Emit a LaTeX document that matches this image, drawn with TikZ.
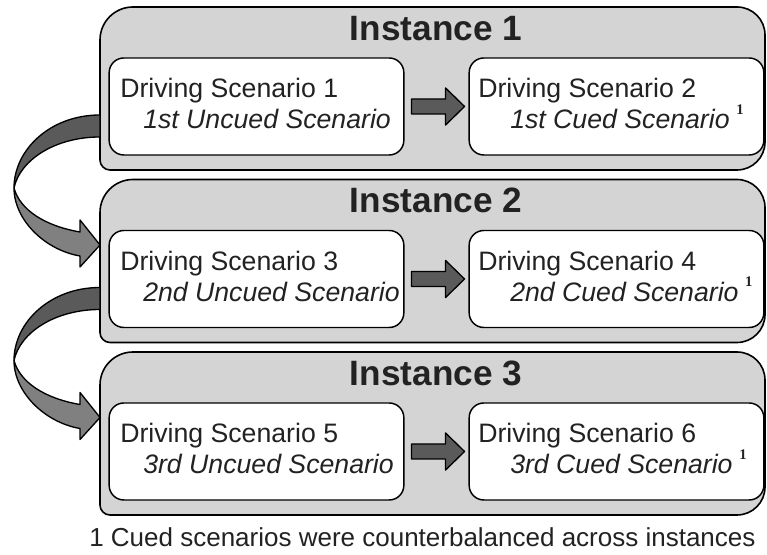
\documentclass[tikz,border=0pt]{standalone}
\usepackage{fontspec}
\setmainfont{Liberation Sans}
\newfontfamily\notefont{Liberation Serif}
\usepackage{tikz}
\usetikzlibrary{calc}
\definecolor{panelgray}{HTML}{D4D4D4}
\definecolor{arrowdark}{HTML}{5A5A5A}
\definecolor{arrowlight}{HTML}{808080}
\definecolor{textgray}{HTML}{222222}
\newcommand{\cuedmark}{\hspace{5pt}\raisebox{11pt}{\notefont\upshape\bfseries\fontsize{11}{11}\selectfont 1}}

\begin{document}
\begin{tikzpicture}[x=0.75pt, y=0.75pt, line join=round,
  every node/.style={text=textgray, inner sep=0pt},
  panel/.style={draw=black, line width=1.2pt, fill=panelgray},
  scenbox/.style={draw=black, line width=1.1pt, fill=white, rounded corners=11pt,
    minimum width=221pt, minimum height=72.75pt},
  title/.style={font=\bfseries\fontsize{26.4}{30}\selectfont, anchor=base},
  scen/.style={font=\fontsize{20}{24}\selectfont, anchor=base west},
  flow/.style={draw=black, line width=1pt, fill=arrowdark}]
  \useasboundingbox (0,0) rectangle (767,555);

  % Instance panels
  \draw[panel] (100,395) -- (100,515) arc[start angle=180,end angle=90,radius=24.75pt]
    -- (737,548) arc[start angle=90,end angle=0,radius=21pt]
    -- (765,413) arc[start angle=0,end angle=-90,radius=21pt]
    -- (110,385) arc[start angle=270,end angle=180,radius=7.5pt] -- cycle;
  \draw[panel] (100,222.5) -- (100,342.5) arc[start angle=180,end angle=90,radius=24.75pt]
    -- (737,375.5) arc[start angle=90,end angle=0,radius=21pt]
    -- (765,240.5) arc[start angle=0,end angle=-90,radius=21pt]
    -- (110,212.5) arc[start angle=270,end angle=180,radius=7.5pt] -- cycle;
  \draw[panel] (100,50) -- (100,170) arc[start angle=180,end angle=90,radius=24.75pt]
    -- (737,203) arc[start angle=90,end angle=0,radius=21pt]
    -- (765,68) arc[start angle=0,end angle=-90,radius=21pt]
    -- (110,40) arc[start angle=270,end angle=180,radius=7.5pt] -- cycle;

  % Titles
  \node[title] (t1) at (436,514.5) {Instance 1};
  \node[title] (t2) at (436,342)   {Instance 2};
  \node[title] (t3) at (436,169.5) {Instance 3};

  % Scenario boxes
  \node[scenbox] (s1) at (256.5,448.5) {};
  \node[scenbox] (s2) at (616.5,448.5) {};
  \node[scenbox] (s3) at (256.5,276)   {};
  \node[scenbox] (s4) at (616.5,276)   {};
  \node[scenbox] (s5) at (256.5,103.5) {};
  \node[scenbox] (s6) at (616.5,103.5) {};

  % Scenario texts
  \node[scen] (l1a) at (120,457)   {Driving Scenario 1};
  \node[scen] (l1b) at (143,426)   {\itshape 1st Uncued Scenario};
  \node[scen] (r1a) at (478,457)   {Driving Scenario 2};
  \node[scen] (r1b) at (510,426)   {\itshape 1st Cued Scenario\cuedmark};
  \node[scen] (l2a) at (120,284.5) {Driving Scenario 3};
  \node[scen] (l2b) at (143,253.5) {\itshape 2nd Uncued Scenario};
  \node[scen] (r2a) at (478,284.5) {Driving Scenario 4};
  \node[scen] (r2b) at (510,253.5) {\itshape 2nd Cued Scenario\cuedmark};
  \node[scen] (l3a) at (120,112)   {Driving Scenario 5};
  \node[scen] (l3b) at (143,81)    {\itshape 3rd Uncued Scenario};
  \node[scen] (r3a) at (478,112)   {Driving Scenario 6};
  \node[scen] (r3b) at (510,81)    {\itshape 3rd Cued Scenario\cuedmark};

  % Arrows inside the panels
  \draw[flow] ($(s1.east)+(7,7.5)$) -- ++(34,0) -- ++(0,11) -- ++(19,-18.5)
    -- ++(-19,-18.5) -- ++(0,11) -- ++(-34,0) -- cycle;
  \draw[flow] ($(s3.east)+(7,7.5)$) -- ++(34,0) -- ++(0,11) -- ++(19,-18.5)
    -- ++(-19,-18.5) -- ++(0,11) -- ++(-34,0) -- cycle;
  \draw[flow] ($(s5.east)+(7,7.5)$) -- ++(34,0) -- ++(0,11) -- ++(19,-18.5)
    -- ++(-19,-18.5) -- ++(0,11) -- ++(-34,0) -- cycle;

  % Curved arrows between panels
  \draw[flow] (100,440) .. controls (50,440) and (14,405) .. (14,367)
    .. controls (20,395) and (55,418) .. (100,418) -- cycle;
  \draw[flow, fill=arrowlight] (14,367) .. controls (14,335) and (45,305) .. (80,299)
    -- (80,288) -- (100,310) -- (80,335) -- (80,323)
    .. controls (45,329) and (20,345) .. (14,367) -- cycle;
  \begin{scope}[shift={(0,-172.5)}]
    \draw[flow] (100,440) .. controls (50,440) and (14,405) .. (14,367)
      .. controls (20,395) and (55,418) .. (100,418) -- cycle;
    \draw[flow, fill=arrowlight] (14,367) .. controls (14,335) and (45,305) .. (80,299)
      -- (80,288) -- (100,310) -- (80,335) -- (80,323)
      .. controls (45,329) and (20,345) .. (14,367) -- cycle;
  \end{scope}

  % Footnote
  \node[scen, font=\fontsize{19.5}{24}\selectfont] (note) at (89,8)
    {1 Cued scenarios were counterbalanced across instances};
\end{tikzpicture}
\end{document}
